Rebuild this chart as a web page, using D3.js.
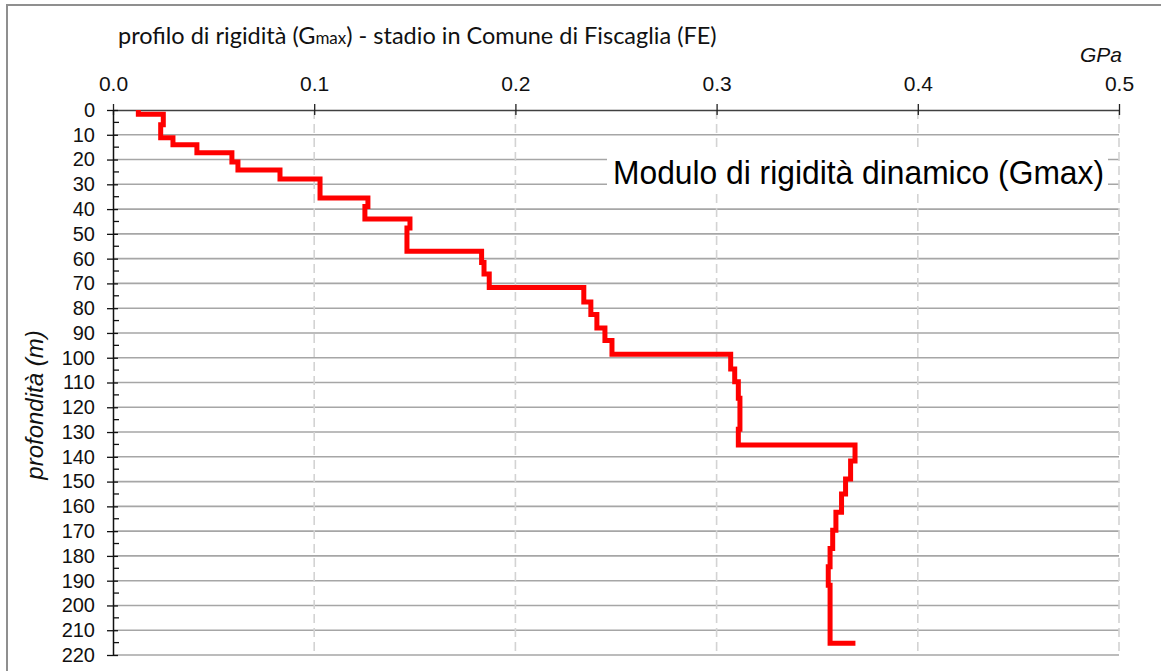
<!DOCTYPE html>
<html>
<head>
<meta charset="utf-8">
<script src="https://cdn.jsdelivr.net/npm/d3@7"></script>
<style>
  body { margin: 0; background: #fff; }
  text { font-family: "Liberation Sans", Arial, sans-serif; }
</style>
</head>
<body>
<svg id="chart" width="1161" height="671"></svg>
<script>
// Layer boundaries (m)
var depth_breaks = [0, 1.7, 6, 11.2, 14, 17.3, 21, 24.2, 27.9, 35.5, 39, 44, 47.6, 57,
                    61.6, 66.2, 71.7, 77.5, 82.5, 88, 93, 98.6, 104.6, 109.7, 116.4,
                    128.9, 135.2, 141.7, 149, 155, 162.4, 169.6, 177, 184.4, 191.8, 215.3];

// Gmax of each layer (GPa), one per interval above
var gmax_values = [0.0126, 0.0250, 0.0237, 0.0298, 0.0417, 0.0591, 0.0621, 0.0830, 0.1029,
                   0.1267, 0.1252, 0.1476, 0.1461, 0.1832, 0.1844, 0.1870, 0.2340, 0.2375,
                   0.2405, 0.2445, 0.2480, 0.3070, 0.3090, 0.3108, 0.3116, 0.3108, 0.3688,
                   0.3666, 0.3641, 0.3621, 0.3593, 0.3577, 0.3564, 0.3555, 0.3564];

// value of the half-space under the last layer
var halfspace_gmax = 0.369;

var x_ticks = [0.0, 0.1, 0.2, 0.3, 0.4, 0.5];
var y_ticks = [0, 10, 20, 30, 40, 50, 60, 70, 80, 90, 100, 110, 120, 130, 140, 150,
               160, 170, 180, 190, 200, 210, 220];
var y_minor = [5, 15, 25, 35, 45, 55, 65, 75, 85, 95, 105, 115, 125, 135, 145, 155,
               165, 175, 185, 195, 205, 215];

var svg = d3.select("#chart");

var x = d3.scaleLinear().domain([0, 0.5]).range([113, 1119]);
var y = d3.scaleLinear().domain([0, 220]).range([110, 655]);

// outer frame (right and bottom edges fall outside the picture)
svg.append("rect")
   .attr("x", 7).attr("y", 5)
   .attr("width", 1200).attr("height", 700)
   .attr("fill", "#fff")
   .attr("stroke", "#8f8f8f")
   .attr("stroke-width", 2);

// Gridlines
svg.append("g").selectAll("line")
   .data(y_ticks.slice(1))
   .enter().append("line")
   .attr("x1", x(0)).attr("x2", x(0.5))
   .attr("y1", function (d) { return y(d); })
   .attr("y2", function (d) { return y(d); })
   .attr("stroke", "#a6a6a6")
   .attr("stroke-width", 1.6);

svg.append("g").selectAll("line")
   .data(x_ticks.slice(1))
   .enter().append("line")
   .attr("x1", function (d) { return x(d); })
   .attr("x2", function (d) { return x(d); })
   .attr("y1", y(0)).attr("y2", y(220))
   .attr("stroke", "#d3d3d3")
   .attr("stroke-width", 1.6)
   .attr("stroke-dasharray", "9,5");

// Top axis (GPa)
var x_axis = svg.append("g")
   .attr("transform", "translate(0," + y(0) + ")")
   .call(d3.axisTop(x).tickValues(x_ticks).tickFormat(d3.format(".1f")).tickSizeOuter(0));

x_axis.select(".domain").attr("stroke", "#404040").attr("stroke-width", 1.5);
x_axis.selectAll(".tick line").attr("y1", 5).attr("y2", -6).attr("stroke", "#202020").attr("stroke-width", 1.3);
x_axis.selectAll(".tick text")
      .attr("y", -19).attr("dy", 0)
      .attr("fill", "#111")
      .style("font-size", "21px");

// Left axis (depth)
var y_axis = svg.append("g")
   .attr("transform", "translate(" + x(0) + ",0)")
   .call(d3.axisLeft(y).tickValues(y_ticks).tickSizeOuter(0).tickPadding(12));

y_axis.select(".domain").attr("stroke", "#111").attr("stroke-width", 1.5);
y_axis.selectAll(".tick line").attr("x1", 5).attr("x2", -6).attr("stroke", "#111").attr("stroke-width", 1.3);
y_axis.selectAll(".tick text")
      .attr("x", -18)
      .attr("fill", "#111")
      .style("font-size", "20px");

// minor ticks only on the inside of the axis
svg.append("g").selectAll("line")
   .data(y_minor)
   .enter().append("line")
   .attr("x1", x(0)).attr("x2", x(0) + 6)
   .attr("y1", function (d) { return y(d); })
   .attr("y2", function (d) { return y(d); })
   .attr("stroke", "#111")
   .attr("stroke-width", 1.3);

// Stepped profile: vertical within a layer, horizontal at each boundary
var pts = [];
for (var i = 0; i < gmax_values.length; ++i) {
  pts.push({ g: gmax_values[i], z: depth_breaks[i] });
  pts.push({ g: gmax_values[i], z: depth_breaks[i + 1] });
}
pts.push({ g: halfspace_gmax, z: depth_breaks[depth_breaks.length - 1] });

var line = d3.line()
  .x(function (d) { return x(d.g); })
  .y(function (d) { return y(d.z); });

svg.append("path")
   .datum(pts)
   .attr("d", line)
   .attr("fill", "none")
   .attr("stroke", "#ff0000")
   .attr("stroke-width", 5)
   .attr("stroke-linejoin", "miter");

// Texts
var title = svg.append("text")
   .attr("x", 118).attr("y", 44)
   .attr("fill", "#111")
   .style("font-family", "Lato, 'Open Sans', sans-serif")
   .style("font-size", "23.5px");
title.append("tspan").text("profilo di rigidità (G");
title.append("tspan").style("font-size", "17px").text("max");
title.append("tspan").text(") - stadio in Comune di Fiscaglia (FE)");

svg.append("text")
   .attr("x", 1122).attr("y", 62)
   .attr("text-anchor", "end")
   .attr("fill", "#111")
   .style("font-style", "italic")
   .style("font-size", "21px")
   .text("GPa");

svg.append("text")
   .attr("transform", "translate(43,405) rotate(-90)")
   .attr("text-anchor", "middle")
   .attr("fill", "#111")
   .style("font-style", "italic")
   .style("font-size", "24px")
   .text("profondità (m)");

// label inside the plot with a white box behind it
svg.append("rect")
   .attr("x", 607).attr("y", 147)
   .attr("width", 501).attr("height", 46)
   .attr("fill", "#fff");

svg.append("text")
   .attr("x", 613).attr("y", 184)
   .attr("fill", "#000")
   .attr("textLength", 491)
   .attr("lengthAdjust", "spacingAndGlyphs")
   .style("font-size", "33px")
   .text("Modulo di rigidità dinamico (Gmax)");
</script>
</body>
</html>
